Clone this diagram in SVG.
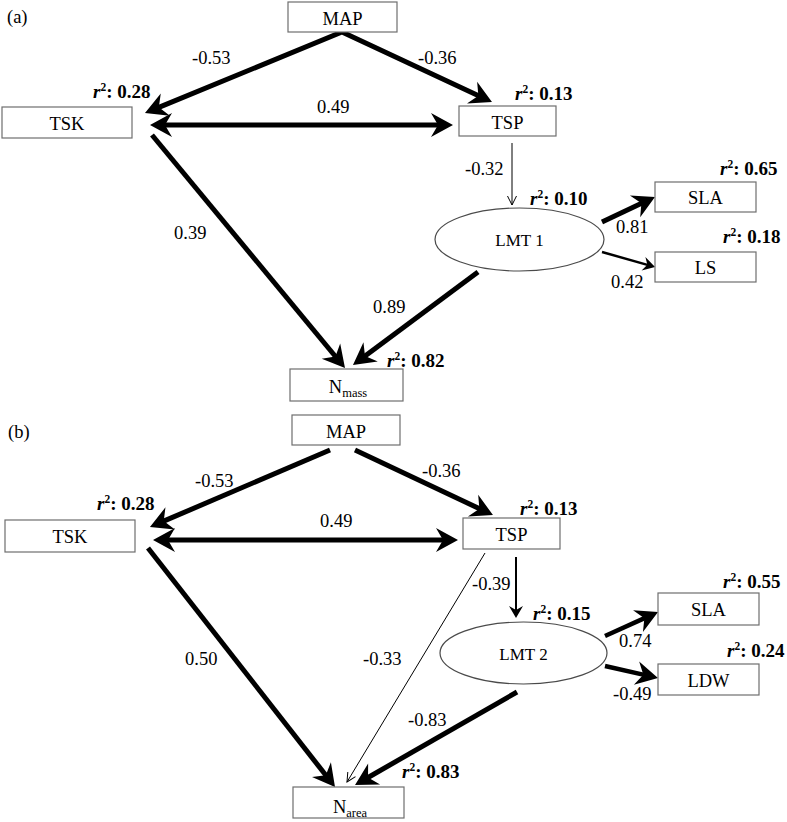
<svg xmlns="http://www.w3.org/2000/svg" width="787" height="822" viewBox="0 0 787 822">
<style>
text{font-family:"Liberation Serif","Times New Roman",serif;fill:#000}
.lbl{font-size:18.5px;text-anchor:middle}
.num{font-size:18.5px}
.r2{font-size:19px;font-weight:bold}
.r2 .i{font-style:italic}
.box{fill:#fff;stroke:#6e6e6e;stroke-width:1.2}
.ell{fill:#fff;stroke:#4a4a4a;stroke-width:1.2}
.c{fill:none;stroke:#000;stroke-linecap:butt;stroke-linejoin:miter}
.t5{stroke-width:5}
.t45{stroke-width:4.5}
.t25{stroke-width:2.5}
.t2{stroke-width:2}
.t1{stroke-width:1}
</style>
<defs>
<marker id="big" markerUnits="userSpaceOnUse" markerWidth="22" markerHeight="24" viewBox="0 0 22 24" refX="9" refY="12" orient="auto-start-reverse" overflow="visible">
<path d="M0,0 L22,12 L0,24 L7,12 z" fill="#000"/>
</marker>
<marker id="mid" markerUnits="userSpaceOnUse" markerWidth="12" markerHeight="14" viewBox="0 0 12 14" refX="5" refY="7" orient="auto" overflow="visible">
<path d="M0,0 L12,7 L0,14 L4,7 z" fill="#000"/>
</marker>
<marker id="thin" markerUnits="userSpaceOnUse" markerWidth="10" markerHeight="10" viewBox="0 0 10 10" refX="9" refY="5" orient="auto" overflow="visible">
<path d="M0,0.5 L9,5 L0,9.5" fill="none" stroke="#000" stroke-width="1"/>
</marker>
</defs>
<rect width="787" height="822" fill="#fff"/>

<text class="num" x="7" y="23">(a)</text>
<text class="num" x="8" y="438">(b)</text>

<g id="connectors">
<!-- panel a -->
<path class="c t5" d="M157,108.1 L342,32 L480.2,96.5" marker-start="url(#big)" marker-end="url(#big)"/>
<path class="c t5" d="M163,125 L440,125" marker-start="url(#big)" marker-end="url(#big)"/>
<path class="c t5" d="M152,135 L336.7,358" marker-end="url(#big)"/>
<path class="c t5" d="M478,272 L363.4,357.2" marker-end="url(#big)"/>
<path class="c t1" d="M512,143 L512,205" marker-end="url(#thin)"/>
<path class="c t5" d="M602,222 L643.2,202.5" marker-end="url(#big)"/>
<path class="c t25" d="M602,252 L648.3,265.1" marker-end="url(#mid)"/>
<text class="num" x="192" y="64">-0.53</text>
<text class="num" x="418" y="64">-0.36</text>
<text class="num" x="317" y="113">0.49</text>
<text class="num" x="465" y="175">-0.32</text>
<text class="num" x="174" y="239">0.39</text>
<text class="num" x="373" y="313">0.89</text>
<text class="num" x="616" y="233">0.81</text>
<text class="num" x="611" y="288">0.42</text>
<!-- panel b -->
<path class="c t5" d="M330,450 L161.9,521.9" marker-end="url(#big)"/>
<path class="c t5" d="M355,450 L481.2,509.5" marker-end="url(#big)"/>
<path class="c t5" d="M166,540 L445,540" marker-start="url(#big)" marker-end="url(#big)"/>
<path class="c t5" d="M148,548 L327,776.8" marker-end="url(#big)"/>
<path class="c t1" d="M485,553 L347,782" marker-end="url(#thin)"/>
<path class="c t2" d="M516,557 L516,611" marker-end="url(#mid)"/>
<path class="c t5" d="M517,692 L366.3,778.5" marker-end="url(#big)"/>
<path class="c t45" d="M605,636 L646.2,617.4" marker-end="url(#big)"/>
<path class="c t45" d="M605,666 L645.3,675.1" marker-end="url(#big)"/>
<text class="num" x="195" y="487">-0.53</text>
<text class="num" x="422" y="477">-0.36</text>
<text class="num" x="320" y="527">0.49</text>
<text class="num" x="472" y="590">-0.39</text>
<text class="num" x="185" y="665">0.50</text>
<text class="num" x="363" y="665">-0.33</text>
<text class="num" x="408" y="726">-0.83</text>
<text class="num" x="619" y="647">0.74</text>
<text class="num" x="613" y="700">-0.49</text>
</g>

<!-- panel a nodes -->
<g id="a-MAP"><rect class="box" x="288" y="2" width="109" height="30"/><text class="lbl" x="342.5" y="25">MAP</text></g>
<g id="a-TSK"><rect class="box" x="2" y="107" width="130" height="31"/><text class="lbl" x="67" y="130">TSK</text>
<text class="r2" x="93" y="98"><tspan class="i">r</tspan><tspan font-size="11.5" dy="-7">2</tspan><tspan dy="7">: 0.28</tspan></text></g>
<g id="a-TSP"><rect class="box" x="459" y="106" width="97" height="30"/><text class="lbl" x="507.5" y="129">TSP</text>
<text class="r2" x="515" y="100"><tspan class="i">r</tspan><tspan font-size="11.5" dy="-7">2</tspan><tspan dy="7">: 0.13</tspan></text></g>
<g id="a-LMT1"><ellipse class="ell" cx="519.5" cy="239.5" rx="84.5" ry="31.5"/><text class="lbl" x="519.5" y="246" style="font-size:17px">LMT 1</text>
<text class="r2" x="530" y="205"><tspan class="i">r</tspan><tspan font-size="11.5" dy="-7">2</tspan><tspan dy="7">: 0.10</tspan></text></g>
<g id="a-SLA"><rect class="box" x="655" y="182" width="101" height="30"/><text class="lbl" x="705.5" y="204">SLA</text>
<text class="r2" x="720" y="175"><tspan class="i">r</tspan><tspan font-size="11.5" dy="-7">2</tspan><tspan dy="7">: 0.65</tspan></text></g>
<g id="a-LS"><rect class="box" x="655" y="252" width="101" height="30"/><text class="lbl" x="705.5" y="274">LS</text>
<text class="r2" x="723" y="243"><tspan class="i">r</tspan><tspan font-size="11.5" dy="-7">2</tspan><tspan dy="7">: 0.18</tspan></text></g>
<g id="a-Nmass"><rect class="box" x="290" y="369" width="113" height="32"/><text class="lbl" x="348" y="393">N<tspan font-size="12.5" dy="4">mass</tspan></text>
<text class="r2" x="387" y="367"><tspan class="i">r</tspan><tspan font-size="11.5" dy="-7">2</tspan><tspan dy="7">: 0.82</tspan></text></g>

<!-- panel b nodes -->
<g id="b-MAP"><rect class="box" x="292" y="415" width="108" height="30"/><text class="lbl" x="346" y="438">MAP</text></g>
<g id="b-TSK"><rect class="box" x="5" y="520" width="130" height="32"/><text class="lbl" x="70" y="543">TSK</text>
<text class="r2" x="97" y="510"><tspan class="i">r</tspan><tspan font-size="11.5" dy="-7">2</tspan><tspan dy="7">: 0.28</tspan></text></g>
<g id="b-TSP"><rect class="box" x="463" y="518" width="97" height="31"/><text class="lbl" x="511.5" y="541">TSP</text>
<text class="r2" x="520" y="515"><tspan class="i">r</tspan><tspan font-size="11.5" dy="-7">2</tspan><tspan dy="7">: 0.13</tspan></text></g>
<g id="b-LMT2"><ellipse class="ell" cx="523.5" cy="653" rx="83.5" ry="31"/><text class="lbl" x="523.5" y="660" style="font-size:17px">LMT 2</text>
<text class="r2" x="533" y="620"><tspan class="i">r</tspan><tspan font-size="11.5" dy="-7">2</tspan><tspan dy="7">: 0.15</tspan></text></g>
<g id="b-SLA"><rect class="box" x="658" y="593" width="101" height="32"/><text class="lbl" x="708.5" y="616">SLA</text>
<text class="r2" x="723" y="588"><tspan class="i">r</tspan><tspan font-size="11.5" dy="-7">2</tspan><tspan dy="7">: 0.55</tspan></text></g>
<g id="b-LDW"><rect class="box" x="658" y="664" width="101" height="31"/><text class="lbl" x="708.5" y="687">LDW</text>
<text class="r2" x="727" y="657"><tspan class="i">r</tspan><tspan font-size="11.5" dy="-7">2</tspan><tspan dy="7">: 0.24</tspan></text></g>
<g id="b-Narea"><rect class="box" x="293" y="787" width="111" height="31"/><text class="lbl" x="350" y="813">N<tspan font-size="12.5" dy="4">area</tspan></text>
<text class="r2" x="402" y="778"><tspan class="i">r</tspan><tspan font-size="11.5" dy="-7">2</tspan><tspan dy="7">: 0.83</tspan></text></g>
</svg>
